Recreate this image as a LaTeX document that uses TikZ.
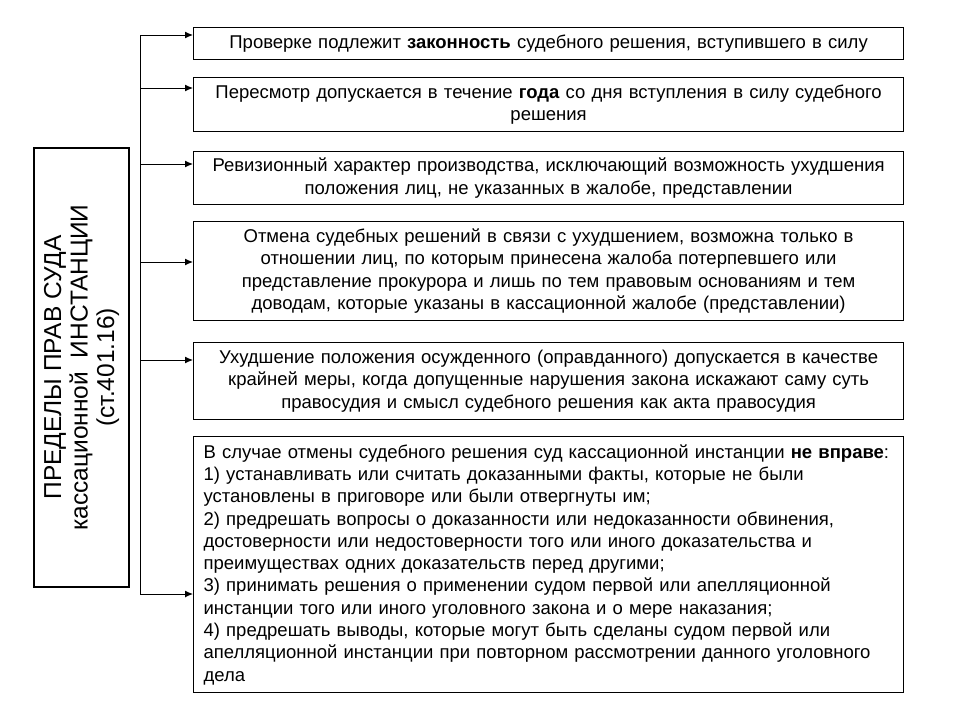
\documentclass[tikz,border=0pt]{standalone}
\usepackage{fontspec}
\setmainfont{Liberation Sans}
\usetikzlibrary{arrows.meta}
\tikzset{
  pravbox/.style={draw, line width=1.2pt, anchor=north west, inner sep=0pt,
    minimum width=710pt, text width=700pt, align=center,
    font=\fontsize{18.5}{22.3}\selectfont},
  vetka/.style={->, line width=1pt},
}
\begin{document}
\begin{tikzpicture}[x=1pt,y=-1pt,>={Latex[length=8pt,width=7pt]}]
	\useasboundingbox (0,0) rectangle (960,720);
	% заголовок слева
	\node[draw, line width=1.2pt, rotate=90, minimum width=439pt, minimum height=95pt,
		inner sep=0pt, align=center, font=\fontsize{24.5}{26.5}\selectfont] (glav) at (81.5,367.5)
		{ПРЕДЕЛЫ ПРАВ СУДА\\кассационной\ \ ИНСТАНЦИИ\\(ст.401.16)};
	
	% правые блоки
	\node[pravbox, minimum height=32pt] (b1) at (193,27)
		{Проверке подлежит \textbf{законность} судебного решения, вступившего в силу};
	\node[pravbox, minimum height=54pt] (b2) at (193,77)
		{Пересмотр допускается в течение \textbf{года} со дня вступления в силу судебного\\решения};
	\node[pravbox, minimum height=53pt] (b3) at (193,151)
		{Ревизионный характер производства, исключающий возможность ухудшения\\положения лиц, не указанных в жалобе, представлении};
	\node[pravbox, minimum height=99pt] (b4) at (193,221)
		{Отмена судебных решений в связи с ухудшением, возможна только в\\отношении лиц, по которым принесена жалоба потерпевшего или\\представление прокурора и лишь по тем правовым основаниям и тем\\доводам, которые указаны в кассационной жалобе (представлении)};
	\node[pravbox, minimum height=77pt] (b5) at (193,342)
		{Ухудшение положения осужденного (оправданного) допускается в качестве\\крайней меры, когда допущенные нарушения закона искажают саму суть\\правосудия и смысл судебного решения как акта правосудия};
	\node[pravbox, minimum height=256pt, text width=690pt, align=left] (b6) at (193,436)
		{В случае отмены судебного решения суд кассационной инстанции \textbf{не вправе}:\\
		1) устанавливать или считать доказанными факты, которые не были\\
		установлены в приговоре или были отвергнуты им;\\
		2) предрешать вопросы о доказанности или недоказанности обвинения,\\
		достоверности или недостоверности того или иного доказательства и\\
		преимуществах одних доказательств перед другими;\\
		3) принимать решения о применении судом первой или апелляционной\\
		инстанции того или иного уголовного закона и о мере наказания;\\
		4) предрешать выводы, которые могут быть сделаны судом первой или\\
		апелляционной инстанции при повторном рассмотрении данного уголовного\\
		дела};
	
	% ствол и стрелки
	\coordinate (v1) at (140,35);
	\coordinate (v2) at (140,88);
	\coordinate (v3) at (140,164);
	\coordinate (v4) at (140,262);
	\coordinate (v5) at (140,360);
	\coordinate (v6) at (140,594);
	\draw[line width=1pt] (v1) -- (v6);
	\foreach \i in {1,...,6}
		\draw[vetka] (v\i) -- (v\i -| b\i.west);
\end{tikzpicture}
\end{document}
